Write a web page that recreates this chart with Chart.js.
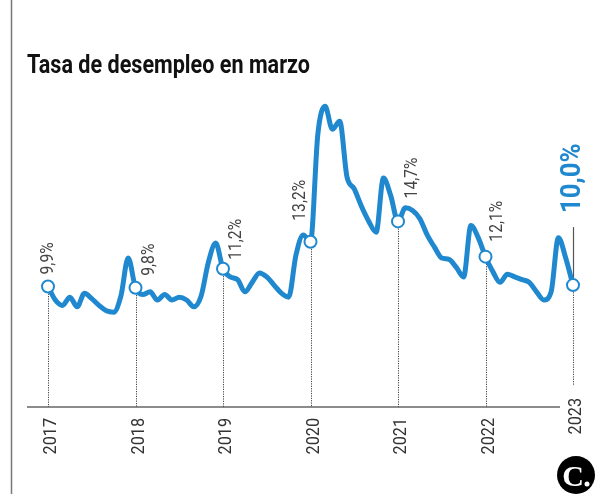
<!DOCTYPE html>
<html>
<head>
<meta charset="utf-8">
<script src="https://cdn.jsdelivr.net/npm/chart.js@4"></script>
<style>
  html, body { margin: 0; padding: 0; background: #fff; }
  #wrap { position: relative; width: 597px; height: 494px; }
  #chart { display: block; }
  #title {
    position: absolute; left: 27px; top: 51px;
    font: bold 26px/26px Roboto, sans-serif; color: #111;
    transform: scaleX(0.83); transform-origin: 0 0; white-space: nowrap;
  }
</style>
</head>
<body>
<div id="wrap">
  <canvas id="chart" width="597" height="494"></canvas>
  <div id="title">Tasa de desempleo en marzo</div>
</div>
<script>
const years = ['2017', '2018', '2019', '2020', '2021', '2022', '2023'];
const marchRates = [9.9, 9.8, 11.2, 13.2, 14.7, 12.1, 10.0];
const rateLabels = ['9,9%', '9,8%', '11,2%', '13,2%', '14,7%', '12,1%', '10,0%'];
const monthNames = ['mar', 'abr', 'may', 'jun', 'jul', 'ago', 'sep', 'oct', 'nov', 'dic', 'ene', 'feb'];

// tasa mensual, marzo 2017 - marzo 2023
const monthlyRates = [
  9.9, 8.9, 8.5, 9.1, 8.4, 9.4, 9.0, 8.5, 8.1, 8.0, 9.2, 12.0,
  9.8, 9.3, 9.5, 8.9, 9.3, 8.9, 9.1, 8.9, 8.4, 9.2, 11.7, 13.1,
  11.2, 10.6, 10.4, 9.5, 10.2, 10.9, 10.6, 10.0, 9.4, 9.1, 12.2, 13.7,
  13.2, 21.1, 23.2, 21.5, 22.1, 18.0, 17.1, 15.8, 14.7, 13.9, 17.9, 16.6,
  14.7, 15.7, 15.5, 14.9, 13.7, 12.8, 12.0, 11.9, 11.3, 10.6, 14.4, 13.5,
  12.1, 11.0, 10.2, 10.8, 10.6, 10.4, 10.2, 9.5, 8.9, 9.5, 13.5, 12.0,
  10.0
];

const monthLabels = monthlyRates.map((_, i) => monthNames[i % 12] + ' ' + (2017 + Math.floor((i + 2) / 12)));

const BLUE = '#1f88cf';
// desplazamiento (x, separación) de cada etiqueta respecto a su punto
const labelOffsets = [[-1, 12], [12, 12], [12, 9], [-12, 21], [13, 23], [10, 15], [-3, 72]];

function vText(ctx, str, cx, cy, size, align, squeeze) {
  ctx.save();
  ctx.translate(cx, cy);
  ctx.rotate(-Math.PI / 2);
  ctx.scale(squeeze, 1);
  ctx.textAlign = align;
  ctx.textBaseline = 'alphabetic';
  ctx.fillText(str, 0, size * 0.711 / 2);
  ctx.restore();
}

function seg(ctx, x1, y1, x2, y2) {
  ctx.beginPath();
  ctx.moveTo(x1, y1);
  ctx.lineTo(x2, y2);
  ctx.stroke();
}

const decorations = {
  id: 'decorations',
  beforeDatasetsDraw(chart) {
    const { ctx, scales: { x, y } } = chart;
    const base = y.getPixelForValue(y.min);
    ctx.save();
    ctx.strokeStyle = '#777';
    ctx.lineWidth = 1.5;
    seg(ctx, 11.5, 0, 11.5, 494);
    ctx.strokeStyle = '#666';
    seg(ctx, 27, base, 560, base);

    ctx.setLineDash([1.2, 1.2]);
    ctx.lineWidth = 1;
    ctx.strokeStyle = '#444';
    marchRates.forEach((v, k) => {
      const px = Math.round(x.getPixelForValue(k * 12)) + 0.5;
      const py = y.getPixelForValue(v);
      const end = k === years.length - 1 ? base - 21 : base;
      seg(ctx, px, py, px, end);
    });
    ctx.setLineDash([]);

    // raya bajo el dato de 2023
    const last = marchRates.length - 1;
    const lx = Math.round(x.getPixelForValue(last * 12)) + 0.5;
    const ly = y.getPixelForValue(marchRates[last]);
    ctx.strokeStyle = '#555';
    ctx.lineWidth = 1.2;
    seg(ctx, lx, ly - 58, lx, ly - 7);
    ctx.restore();
  },
  afterDatasetsDraw(chart) {
    const { ctx, scales: { x, y } } = chart;
    ctx.save();

    // etiquetas de valor
    marchRates.forEach((v, k) => {
      const px = x.getPixelForValue(k * 12);
      const py = y.getPixelForValue(v);
      const [dx, gap] = labelOffsets[k];
      if (k === marchRates.length - 1) {
        ctx.fillStyle = BLUE;
        ctx.font = 'bold 28px Roboto, sans-serif';
        vText(ctx, rateLabels[k], px + dx, py - gap, 28, 'left', 0.92);
      } else {
        ctx.fillStyle = '#444';
        ctx.font = '18px Roboto, sans-serif';
        vText(ctx, rateLabels[k], px + dx, py - gap, 18, 'left', 0.87);
      }
    });

    // años
    ctx.fillStyle = '#333';
    ctx.font = '18px Roboto, sans-serif';
    years.forEach((yr, k) => {
      const px = x.getPixelForValue(k * 12);
      const top = k === years.length - 1 ? 398 : 418;
      vText(ctx, yr, px + 2, top, 18, 'right', 0.9);
    });

    // logo
    ctx.fillStyle = '#000';
    ctx.beginPath();
    ctx.arc(576, 475, 19, 0, Math.PI * 2);
    ctx.fill();
    ctx.fillStyle = '#fff';
    ctx.font = 'bold 30px "Liberation Serif", serif';
    ctx.textAlign = 'center';
    ctx.textBaseline = 'alphabetic';
    ctx.fillText('C', 573, 486);
    ctx.beginPath();
    ctx.arc(587, 484, 2.5, 0, Math.PI * 2);
    ctx.fill();
    ctx.restore();
  }
};

new Chart(document.getElementById('chart'), {
  type: 'line',
  data: {
    labels: monthLabels,
    datasets: [{
      data: monthlyRates,
      borderColor: BLUE,
      borderWidth: 5,
      cubicInterpolationMode: 'monotone',
      pointRadius: c => (c.dataIndex % 12 === 0 ? 6 : 0),
      pointHoverRadius: c => (c.dataIndex % 12 === 0 ? 6 : 0),
      pointBackgroundColor: '#fff',
      pointBorderColor: BLUE,
      pointBorderWidth: 2,
      clip: false
    }]
  },
  options: {
    responsive: false,
    animation: false,
    layout: { padding: { left: 48, right: 24, top: 90, bottom: 87 } },
    plugins: { legend: { display: false }, tooltip: { enabled: false } },
    scales: {
      x: { type: 'category', offset: false, display: false },
      y: { display: false, min: 1.0, max: 24.4 }
    }
  },
  plugins: [decorations]
});
</script>
</body>
</html>
